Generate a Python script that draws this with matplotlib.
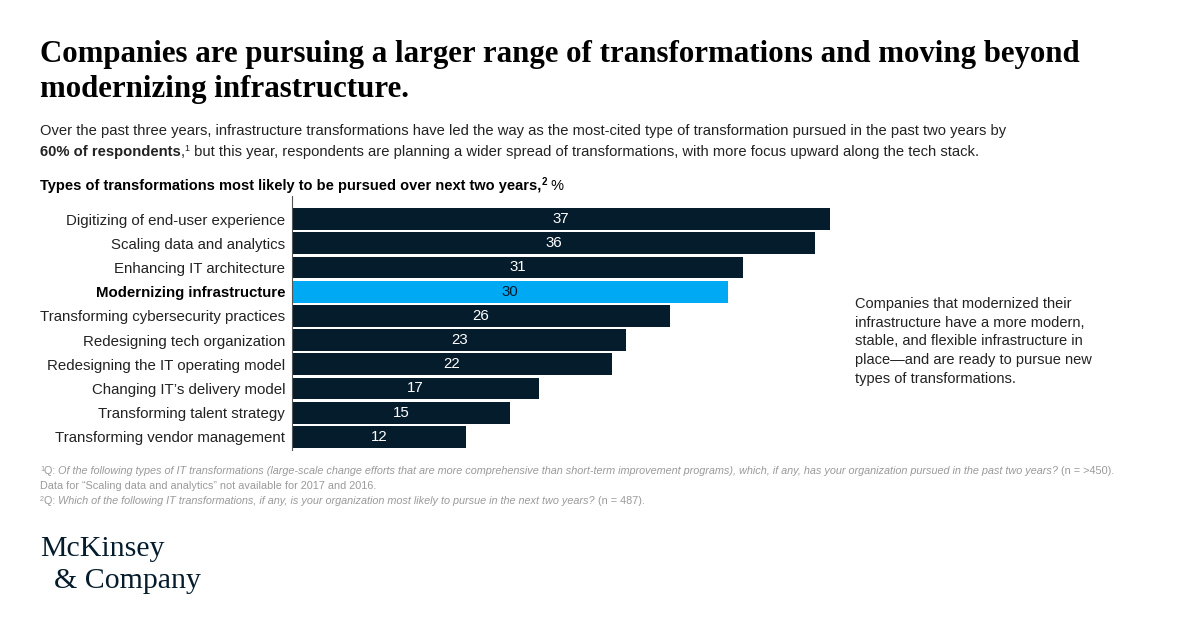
import matplotlib
matplotlib.use("Agg")
import matplotlib.pyplot as plt

categories = [
    "Digitizing of end-user experience",
    "Scaling data and analytics",
    "Enhancing IT architecture",
    "Modernizing infrastructure",
    "Transforming cybersecurity practices",
    "Redesigning tech organization",
    "Redesigning the IT operating model",
    "Changing IT\u2019s delivery model",
    "Transforming talent strategy",
    "Transforming vendor management",
]
values = [37, 36, 31, 30, 26, 23, 22, 17, 15, 12]
highlight = "Modernizing infrastructure"

NAVY = "#051c2c"
BLUE = "#00a9f4"
GREY = "#9a9a9a"
SANS = ["Liberation Sans", "DejaVu Sans"]
SERIF = ["Liberation Serif", "DejaVu Serif"]

W, H = 1200, 627
fig = plt.figure(figsize=(12, 6.27), dpi=100)
fig.patch.set_facecolor("white")


def fx(px):
    return px / W


def fy(py):
    return 1 - py / H


def runs(x, y, parts, size, color="#222222", family=SANS):
    """Draw a sequence of text runs on one baseline; parts = list of (text, dict)."""
    fig.canvas.draw()
    r = fig.canvas.get_renderer()
    cx = x
    for txt, kw in parts:
        s = kw.get("size", size)
        dy = kw.get("dy", 0)
        t = fig.text(fx(cx), fy(y - dy), txt, fontsize=s, color=kw.get("color", color),
                     fontweight=kw.get("weight", "normal"), fontstyle=kw.get("style", "normal"),
                     family=family, va="baseline", ha="left")
        bb = t.get_window_extent(renderer=r)
        cx += bb.width


# Title
fig.text(fx(40), fy(62), "Companies are pursuing a larger range of transformations and moving beyond",
         fontsize=22.2, fontweight="bold", family=SERIF, color="#000000", va="baseline")
fig.text(fx(40), fy(97), "modernizing infrastructure.",
         fontsize=22.2, fontweight="bold", family=SERIF, color="#000000", va="baseline")

# Subtitle
runs(40, 135, [("Over the past three years, infrastructure transformations have led the way as the most-cited type of transformation pursued in the past two years by", {})], 10.65)
runs(40, 156, [("60% of respondents", {"weight": "bold"}), (",", {}), ("1", {"size": 6.5, "dy": 5}),
               (" but this year, respondents are planning a wider spread of transformations, with more focus upward along the tech stack.", {})], 10.65)

# Chart title
runs(40, 190, [("Types of transformations most likely to be pursued over next two years,", {"weight": "bold"}),
               ("2", {"weight": "bold", "size": 7, "dy": 5}), (" %", {})], 10.5, color="#000000")

# Axes for bars
ax = fig.add_axes([fx(292), fy(450), fx(830) - fx(292), (450 - 196) / H])
ypos = list(range(len(categories)))
colors = [BLUE if c == highlight else NAVY for c in categories]
bars = ax.barh(ypos, values, height=0.9, color=colors, edgecolor="none")
ax.set_xlim(0, 37)
ax.set_ylim(9.54, -0.95)
for sp in ["top", "right", "bottom"]:
    ax.spines[sp].set_visible(False)
ax.spines["left"].set_color("#555555")
ax.spines["left"].set_linewidth(0.8)
ax.set_xticks([])
ax.set_yticks(ypos)
ax.set_yticklabels(categories)
ax.tick_params(axis="y", length=0, pad=5)
for lbl, c in zip(ax.get_yticklabels(), categories):
    lbl.set_family(SANS)
    lbl.set_fontsize(10.8)
    lbl.set_color("#222222")
    if c == highlight:
        lbl.set_fontweight("bold")
        lbl.set_color("#000000")
for b, v, c in zip(bars, values, categories):
    ax.text(v / 2, b.get_y() + b.get_height() / 2, str(v), ha="center", va="center",
            fontsize=10.8, family=SANS, color=NAVY if c == highlight else "white")

# Annotation
ann = ("Companies that modernized their\ninfrastructure have a more modern,\n"
       "stable, and flexible infrastructure in\nplace\u2014and are ready to pursue new\n"
       "types of transformations.")
fig.text(fx(855), fy(297), ann, fontsize=10.5, family=SANS, color="#222222", va="top",
         linespacing=1.43)

# Footnotes
fs = 7.8
runs(40, 474, [("1", {"size": 5.2, "dy": 3}), ("Q: ", {}),
               ("Of the following types of IT transformations (large-scale change efforts that are more comprehensive than short-term improvement programs), which, if any, has your organization pursued in the past two years?", {"style": "italic"}),
               (" (n = >450).", {})], fs, color=GREY)
runs(40, 489, [("Data for \u201cScaling data and analytics\u201d not available for 2017 and 2016.", {})], fs, color=GREY)
runs(40, 504, [("2", {"size": 5.2, "dy": 3}), ("Q: ", {}),
               ("Which of the following IT transformations, if any, is your organization most likely to pursue in the next two years?", {"style": "italic"}),
               (" (n = 487).", {})], fs, color=GREY)

# Logo
fig.text(fx(40), fy(556), "McKinsey", fontsize=21.5, family=SERIF, color=NAVY, va="baseline")
fig.text(fx(54), fy(588), "& Company", fontsize=21.5, family=SERIF, color=NAVY, va="baseline")

fig.savefig("out.png", dpi=100, facecolor="white")
